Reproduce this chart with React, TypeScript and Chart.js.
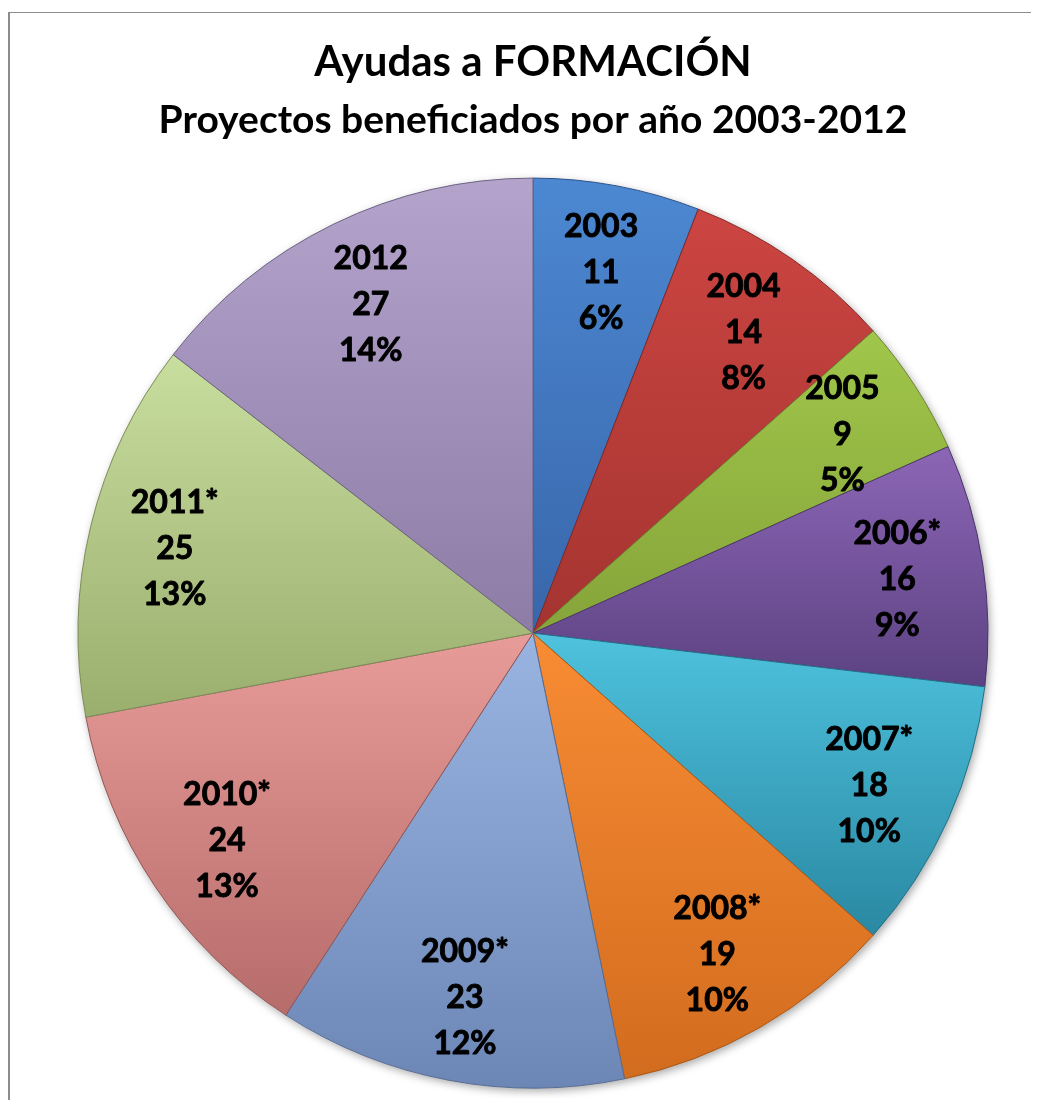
import React, { useEffect, useRef } from "react";
import { Chart, registerables } from "chart.js";

Chart.register(...registerables);

const years = ["2003", "2004", "2005", "2006*", "2007*", "2008*", "2009*", "2010*", "2011*", "2012"];
const values = [11, 14, 9, 16, 18, 19, 23, 24, 25, 27];
const percentLabels = ["6%", "8%", "5%", "9%", "10%", "10%", "12%", "13%", "13%", "14%"];

const topColors = ["#4c88d2", "#cc4542", "#a0c64a", "#8c66b6", "#4ec2de", "#f88c34", "#9ab4e2", "#e89c9a", "#c8de9e", "#b4a4cc"];
const bottomColors = ["#3866aa", "#a43430", "#86a43a", "#5c4282", "#2a88a2", "#d26c1e", "#6c86b6", "#b66c6a", "#9aae6e", "#8c7ca6"];
const edgeColors = ["#2d5288", "#802826", "#6a8230", "#4a3568", "#236e84", "#a85818", "#566c92", "#925654", "#7c8c58", "#6e6284"];

const TITLE = "Ayudas a FORMACIÓN";
const SUBTITLE = "Proyectos beneficiados por año 2003-2012";
const RADIUS = 455;
const FONT = "Lato, 'Open Sans', sans-serif";

function sliceGradient(context: any) {
  const i = context.dataIndex;
  const chart = context.chart;
  const area = chart.chartArea;
  if (context.type !== "data" || !area) return topColors[i] || "#888";
  const cx = (area.left + area.right) / 2;
  const cy = (area.top + area.bottom) / 2;
  const total = values.reduce((a, b) => a + b, 0);
  let before = 0;
  for (let k = 0; k < i; k++) before += values[k];
  const start = -Math.PI / 2 + (2 * Math.PI * before) / total;
  const end = start + (2 * Math.PI * values[i]) / total;
  const ys = [cy, cy + RADIUS * Math.sin(start), cy + RADIUS * Math.sin(end)];
  for (let k = -1; k <= 3; k++) {
    const a = Math.PI / 2 + k * Math.PI;
    if (a >= start && a <= end) ys.push(cy + RADIUS * Math.sin(a));
  }
  const minY = Math.min(...ys);
  const maxY = Math.max(...ys);
  const g = chart.ctx.createLinearGradient(0, minY, 0, maxY);
  g.addColorStop(0, topColors[i]);
  g.addColorStop(1, bottomColors[i]);
  return g;
}

const shadowPlugin = {
  id: "pieShadow",
  beforeDatasetsDraw(chart: any) {
    const meta = chart.getDatasetMeta(0);
    const arc = meta.data[0];
    if (!arc) return;
    const { x, y, outerRadius } = arc.getProps(["x", "y", "outerRadius"], true);
    const ctx = chart.ctx;
    ctx.save();
    ctx.shadowColor = "rgba(0,0,0,0.35)";
    ctx.shadowBlur = 8;
    ctx.shadowOffsetX = 2;
    ctx.shadowOffsetY = 3;
    ctx.fillStyle = "#ffffff";
    ctx.beginPath();
    ctx.arc(x, y, outerRadius, 0, Math.PI * 2);
    ctx.fill();
    ctx.restore();
  },
};

const labelPlugin = {
  id: "sliceLabels",
  afterDatasetsDraw(chart: any) {
    const meta = chart.getDatasetMeta(0);
    const ctx = chart.ctx;
    ctx.save();
    ctx.fillStyle = "#000000";
    ctx.strokeStyle = "#000000";
    ctx.lineWidth = 0.9;
    ctx.lineJoin = "round";
    ctx.font = `bold 32px ${FONT}`;
    ctx.textAlign = "center";
    ctx.textBaseline = "middle";
    const lineH = 46;
    meta.data.forEach((arc: any, i: number) => {
      const p = arc.getProps(["x", "y", "startAngle", "endAngle", "outerRadius"], true);
      const mid = (p.startAngle + p.endAngle) / 2;
      const r = p.outerRadius * 0.81;
      const lx = p.x + r * Math.cos(mid);
      const ly = p.y + r * Math.sin(mid) + 2;
      const lines = [years[i], String(values[i]), percentLabels[i]];
      lines.forEach((t, j) => {
        ctx.fillText(t, lx, ly + (j - 1) * lineH);
        ctx.strokeText(t, lx, ly + (j - 1) * lineH);
      });
    });
    ctx.restore();
  },
};

export default function App() {
  const ref = useRef<HTMLCanvasElement | null>(null);

  useEffect(() => {
    if (!ref.current) return;
    const chart = new Chart(ref.current, {
      type: "pie",
      data: {
        labels: years,
        datasets: [
          {
            data: values,
            backgroundColor: sliceGradient as any,
            borderColor: edgeColors,
            borderWidth: 1,
          },
        ],
      },
      options: {
        responsive: false,
        animation: false,
        radius: RADIUS,
        layout: { padding: { left: 6, right: 0, top: 0, bottom: 0 } },
        plugins: {
          legend: { display: false },
          tooltip: { enabled: false },
          title: {
            display: true,
            text: TITLE,
            color: "#000000",
            font: { family: FONT, size: 42, weight: "bold", lineHeight: 1.2 },
            padding: { top: 24, bottom: 10 },
          },
          subtitle: {
            display: true,
            text: SUBTITLE,
            color: "#000000",
            font: { family: FONT, size: 39, weight: "bold", lineHeight: 1.2 },
            padding: { top: 0, bottom: 24 },
          },
        },
      } as any,
      plugins: [shadowPlugin, labelPlugin],
    });
    return () => chart.destroy();
  }, []);

  return (
    <div style={{ width: 1031, height: 1092, overflow: "hidden", paddingTop: 4, boxSizing: "border-box" }}>
      <div style={{ borderTop: "1px solid #8c8c8c", borderLeft: "2px solid #8c8c8c", width: 1100, height: 1200 }}>
        <canvas ref={ref} width={1040} height={1085} style={{ display: "block" }} />
      </div>
    </div>
  );
}
